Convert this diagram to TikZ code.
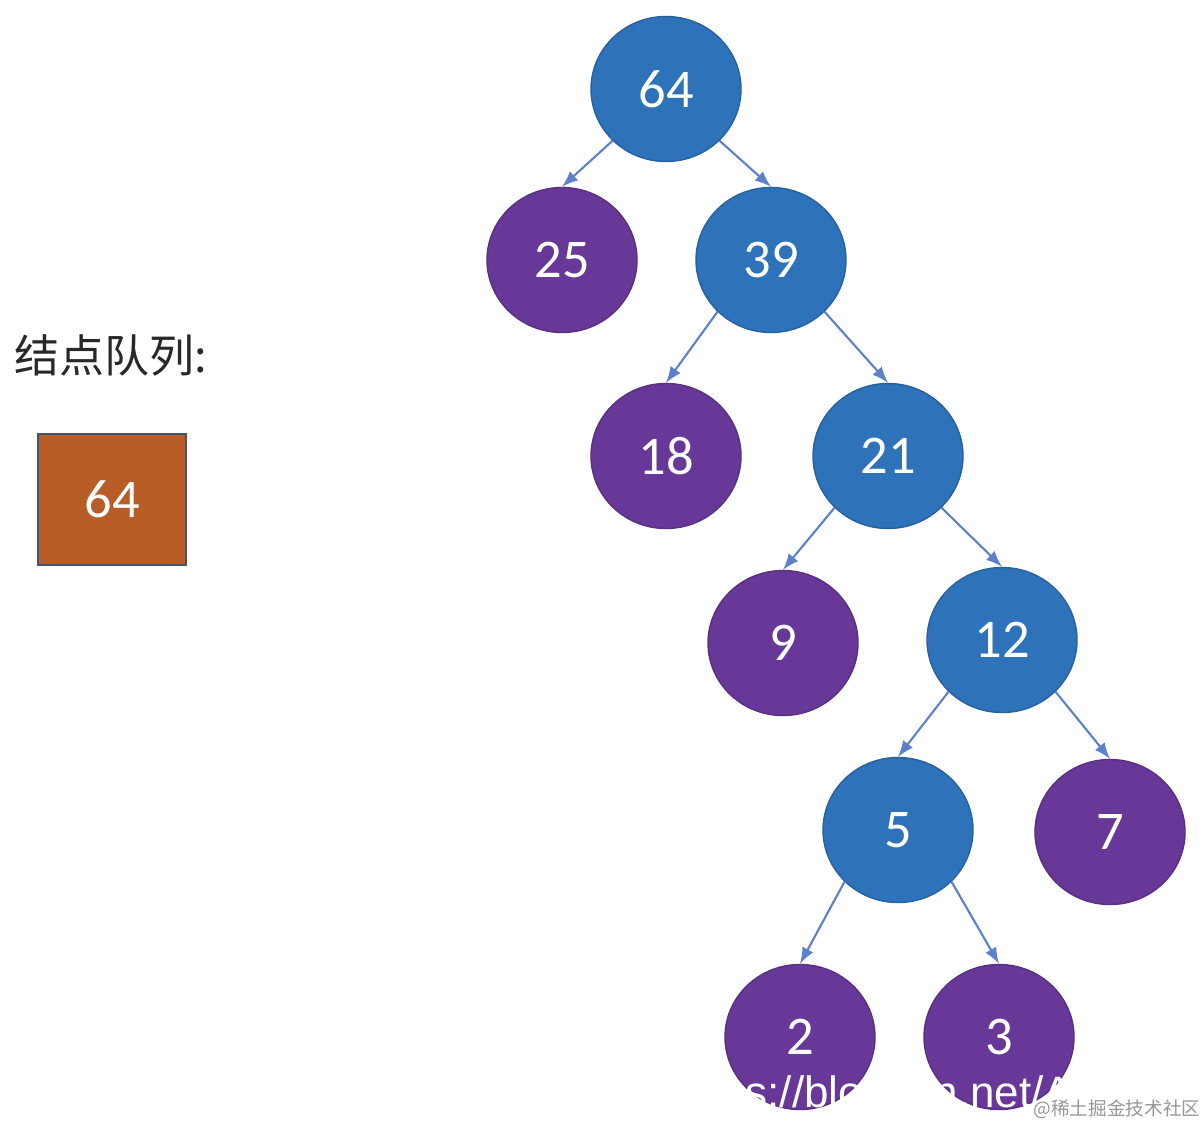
\documentclass[tikz,border=0pt]{standalone}
\usepackage{fontspec}
\setmainfont{Carlito}
\newfontfamily\cjkfont{Noto Sans CJK SC}
\newfontfamily\wmfont{Liberation Sans}
\usetikzlibrary{shapes}
\usetikzlibrary{positioning}
\usetikzlibrary{arrows.meta}
\definecolor{nodeblue}{RGB}{46,114,186}
\definecolor{nodepurple}{RGB}{104,56,152}
\definecolor{cellorange}{RGB}{184,92,40}
\definecolor{edgeblue}{RGB}{92,128,204}
\tikzset{
    cell/.style = {rectangle, draw={rgb,255:red,68;green,84;blue,106}, line width=0.8pt, minimum width = 1.48cm, minimum height = 1.31cm, fill=cellorange, text=white, font=\fontsize{15.5}{18}\selectfont},
    mynodeb/.style = {ellipse, draw=nodeblue!85!black, line width=0.4pt, inner sep=0pt, minimum width=1.5cm, minimum height=1.45cm, fill=nodeblue, text=white, font=\fontsize{15.5}{18}\selectfont},
    mynodep/.style = {ellipse, draw=nodepurple!85!black, line width=0.4pt, inner sep=0pt, minimum width=1.5cm, minimum height=1.45cm, fill=nodepurple, text=white, font=\fontsize{15.5}{18}\selectfont},
    edgen/.style = {-latex, line width=0.6pt, edgeblue},
    wmark/.style = {inner sep=0pt, text=white, font=\wmfont\fontsize{12.5}{14}\selectfont}
}
\begin{document}
\begin{tikzpicture}
%
\path[use as bounding box] (0,0) rectangle (12.02,-11.26);
%
\node[anchor=west, inner sep=0pt, text={rgb,255:red,40;green,40;blue,40}, font=\cjkfont\fontsize{12.8}{14}\selectfont] at (0.14,-3.55) (title) {结点队列:};
\node[cell] at (1.12,-4.995) (q1) {64};
%
\node[mynodeb] at (6.66,-0.89) (n64) {64};
\node[mynodep] at (5.62,-2.60) (n25) {25};
\node[mynodeb] at (7.71,-2.60) (n39) {39};
\node[mynodep] at (6.66,-4.56) (n18) {18};
\node[mynodeb] at (8.88,-4.56) (n21) {21};
\node[mynodep] at (7.83,-6.43) (n9) {9};
\node[mynodeb] at (10.02,-6.40) (n12) {12};
\node[mynodeb] at (8.98,-8.30) (n5) {5};
\node[mynodep] at (11.10,-8.32) (n7) {7};
\node[mynodep] at (8.00,-10.37) (n2) {2};
\node[mynodep] at (9.99,-10.37) (n3) {3};
%
\draw[edgen] (n64.south west) -- (n25.north);
\draw[edgen] (n64.south east) -- (n39.north);
\draw[edgen] (n39.south west) -- (n18.north);
\draw[edgen] (n39.south east) -- (n21.north);
\draw[edgen] (n21.south west) -- (n9.north);
\draw[edgen] (n21.south east) -- (n12.north);
\draw[edgen] (n12.south west) -- (n5.north);
\draw[edgen] (n12.south east) -- (n7.north);
\draw[edgen] (n5.south west) -- (n2.north);
\draw[edgen] (n5.south east) -- (n3.north);
%
\node[wmark, anchor=base west] at (7.45,-11.07) (wm1) {s://blo};
\node[wmark, anchor=base west] at (9.33,-11.07) (wm2) {n.net/A};
\node[inner sep=0pt, text={rgb,255:red,150;green,150;blue,150}, font=\cjkfont\fontsize{5.3}{6}\selectfont] at (11.17,-11.095) (wm3) {@稀土掘金技术社区};
%
\end{tikzpicture}
\end{document}
